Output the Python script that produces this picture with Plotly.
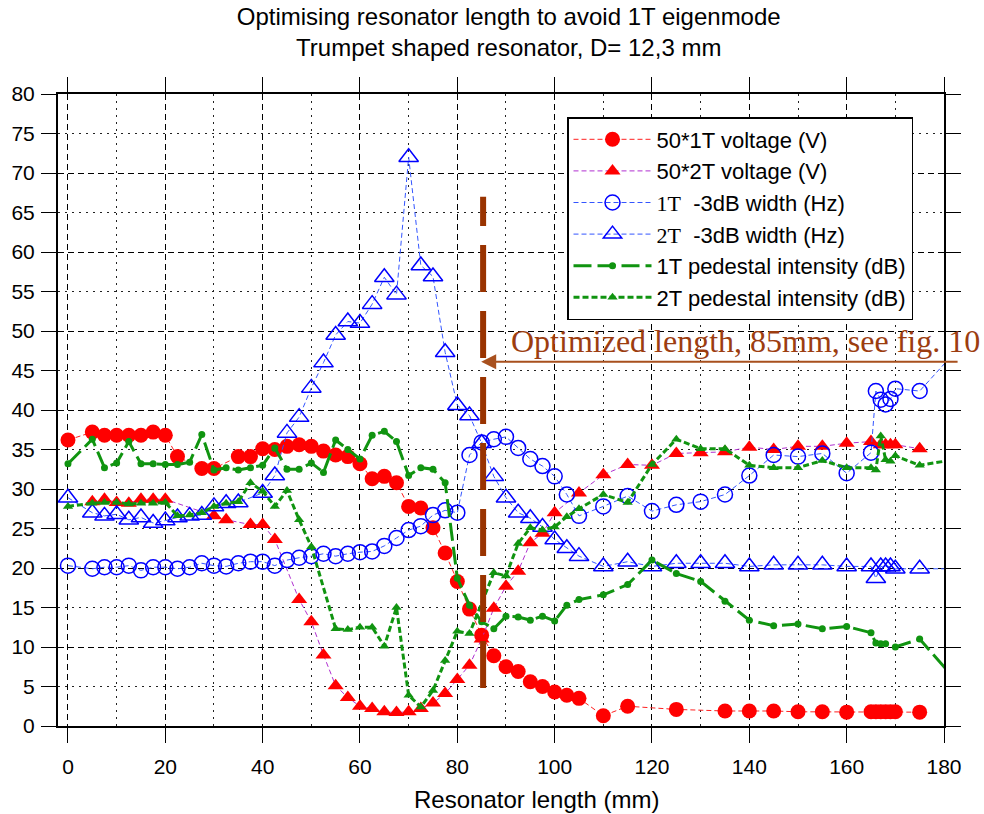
import plotly.graph_objects as go

# ---------------- data ----------------
x_v1 = [0, 5, 7.5, 10, 12.5, 15, 17.5, 20, 22.5, 27.5, 30, 35, 37.5, 40, 42.5, 45, 47.5, 50, 52.5, 55,
        57.5, 60, 62.5, 65, 67.5, 70, 72.5, 75, 77.5, 80, 82.5, 85, 87.5, 90, 92.5, 95, 97.5, 100, 102.5,
        105, 110, 115, 125, 135, 140, 145, 150, 155, 160, 165, 166, 167, 168, 169, 170, 175]
y_v1 = [36.2, 37.2, 36.8, 36.8, 36.8, 36.8, 37.2, 36.8, 34.1, 32.6, 32.6, 34.1, 34.1, 35.1, 35.0, 35.4,
        35.6, 35.4, 34.8, 34.3, 34.1, 33.2, 31.3, 31.6, 30.8, 27.8, 27.6, 25.1, 21.9, 18.3, 14.8, 11.5,
        8.9, 7.5, 6.9, 5.6, 5.0, 4.3, 3.9, 3.5, 1.3, 2.5, 2.1, 1.9, 1.9, 1.9, 1.8, 1.8, 1.75, 1.8, 1.8,
        1.8, 1.8, 1.8, 1.8, 1.75]

x_v2 = [5, 7.5, 10, 12.5, 15, 17.5, 20, 30, 32.5, 37.5, 40, 42.5, 47.5, 50, 52.5, 55, 57.5, 60, 62.5,
        65, 67.5, 70, 72.5, 75, 77.5, 80, 82.5, 85, 87.5, 90, 92.5, 95, 97.5, 100, 105, 110, 115, 120,
        125, 130, 135, 140, 145, 150, 155, 160, 165, 167, 168, 169, 170, 175]
y_v2 = [28.4, 28.7, 28.3, 28.2, 28.7, 28.7, 28.7, 26.6, 26.1, 25.5, 25.5, 23.6, 16.0, 13.2, 9.0, 5.1,
        3.6, 2.5, 2.2, 1.8, 1.7, 1.8, 2.2, 2.9, 4.1, 5.9, 7.7, 11.0, 14.9, 17.7, 19.6, 23.2, 24.4, 27.0,
        29.5, 31.8, 33.1, 33.0, 34.5, 34.6, 34.7, 35.3, 35.0, 35.4, 35.4, 35.8, 36.0, 35.6, 35.6, 35.6,
        35.6, 35.1]

x_w1 = [0, 5, 7.5, 10, 12.5, 15, 17.5, 20, 22.5, 25, 27.5, 30, 32.5, 35, 37.5, 40, 42.5, 45, 47.5, 50,
        52.5, 55, 57.5, 60, 62.5, 65, 67.5, 70, 72.5, 75, 77.5, 80, 82.5, 85, 87.5, 90, 92.5, 95, 97.5,
        100, 102.5, 105, 110, 115, 120, 125, 130, 135, 140, 145, 150, 155, 160, 165, 166, 167, 168, 169,
        170, 175, 185]
y_w1 = [20.3, 19.9, 20.1, 20.1, 20.3, 19.7, 20.1, 20.1, 19.9, 20.1, 20.6, 20.3, 20.2, 20.6, 20.8, 20.8,
        20.3, 21.0, 21.3, 21.5, 21.8, 21.5, 21.8, 22.0, 22.1, 22.8, 23.8, 24.8, 25.3, 26.7, 27.3, 27.0,
        34.3, 35.9, 36.3, 36.6, 35.2, 33.8, 32.9, 31.6, 29.3, 26.6, 27.8, 29.1, 27.2, 28.0, 28.4, 29.3,
        31.7, 34.3, 34.1, 34.5, 32.0, 34.6, 42.4, 41.3, 40.7, 41.4, 42.7, 42.4, 49.2]

x_w2 = [0, 5, 7.5, 10, 12.5, 15, 17.5, 20, 22.5, 25, 27.5, 30, 32.5, 35, 40, 42.5, 45, 47.5, 50, 52.5,
        55, 57.5, 60, 62.5, 65, 67.5, 70, 72.5, 75, 77.5, 80, 82.5, 85, 87.5, 90, 92.5, 95, 97.5, 100,
        102.5, 105, 110, 115, 120, 125, 130, 135, 140, 145, 150, 155, 160, 165, 166, 167, 168, 169, 170,
        175, 185]
y_w2 = [28.9, 27.0, 26.6, 26.8, 26.1, 26.4, 25.7, 26.0, 26.4, 26.6, 26.7, 27.8, 28.2, 28.3, 29.5, 31.7,
        37.1, 39.1, 42.8, 46.0, 49.5, 51.2, 51.0, 53.4, 56.8, 54.6, 72.0, 58.3, 56.9, 47.3, 40.6, 39.3,
        35.8, 31.6, 28.9, 27.0, 26.3, 25.2, 23.6, 22.5, 21.5, 20.2, 20.8, 20.2, 20.6, 20.6, 20.6, 20.2,
        20.4, 20.4, 20.4, 20.2, 20.2, 18.7, 20.2, 20.2, 20.2, 19.9, 19.9, 19.9]

x_p1 = [0, 5, 7.5, 10, 12.5, 15, 17.5, 20, 22.5, 25, 27.5, 30, 32.5, 35, 37.5, 40, 42.5, 45, 47.5, 50,
        52.5, 55, 57.5, 60, 62.5, 65, 67.5, 70, 72.5, 75, 77.5, 80, 82.5, 85, 87.5, 90, 92.5, 95, 97.5,
        100, 102.5, 105, 110, 115, 120, 125, 130, 135, 140, 145, 150, 155, 160, 165, 166, 167, 168, 170,
        175, 185]
y_p1 = [33.2, 36.3, 32.7, 33.3, 36.0, 33.2, 33.2, 33.1, 33.1, 33.4, 36.9, 32.4, 32.7, 32.4, 32.7, 33.0,
        35.2, 32.5, 32.5, 33.3, 32.1, 36.2, 35.0, 33.8, 36.8, 37.3, 36.0, 31.7, 32.7, 32.5, 30.8, 18.7,
        15.3, 13.2, 12.3, 13.9, 13.8, 13.4, 13.9, 13.3, 15.3, 16.0, 16.6, 17.9, 21.0, 19.3, 18.3, 15.8,
        13.4, 12.7, 12.9, 12.3, 12.6, 11.8, 10.5, 10.4, 10.4, 10.0, 11.0, 4.0]

x_p2 = [0, 5, 7.5, 10, 12.5, 15, 17.5, 20, 22.5, 25, 27.5, 30, 32.5, 35, 37.5, 40, 42.5, 45, 47.5, 50,
        55, 57.5, 60, 62.5, 65, 67.5, 70, 72.5, 75, 77.5, 80, 82.5, 87.5, 90, 92.5, 95, 97.5, 100, 102.5,
        105, 110, 115, 120, 125, 130, 135, 140, 145, 150, 155, 160, 165, 166, 167, 168, 169, 170, 175, 185]
y_p2 = [27.8, 28.2, 28.3, 28.3, 28.1, 28.2, 28.2, 28.3, 26.6, 26.7, 27.0, 27.8, 28.2, 28.4, 30.8, 29.7,
        27.8, 29.8, 26.1, 22.7, 12.3, 12.2, 12.5, 12.5, 10.1, 15.0, 3.9, 2.4, 4.5, 8.3, 12.0, 11.7, 19.4,
        19.0, 23.1, 25.1, 24.8, 25.2, 26.5, 27.5, 29.3, 28.3, 33.1, 36.3, 35.1, 35.1, 33.0, 32.7, 32.7,
        33.6, 32.7, 32.7, 32.4, 36.7, 33.7, 33.5, 34.2, 33.0, 34.0]

names = ["50*1T voltage (V)",
         "50*2T voltage (V)",
         '<span style="font-family:Liberation Serif">1T</span>  -3dB width (Hz)',
         '<span style="font-family:Liberation Serif">2T</span>  -3dB width (Hz)',
         "1T pedestal intensity (dB)",
         "2T pedestal intensity (dB)"]

TITLE = "Optimising resonator length to avoid 1T eigenmode<br>Trumpet shaped resonator, D= 12,3 mm"
XTITLE = "Resonator length (mm)"
NOTE = "Optimized length, 85mm, see fig. 10"
OPT_X = 85.3          # optimized length marker line
OPT_Y = [4.8, 67.0]
ARROW_Y = 46.1
ARROW_TAIL_X = 183.1
X_RANGE = [-2.05, 180]
Y_RANGE = [0, 80]

GREEN = "#109410"
BROWN = "#993300"

fig = go.Figure()
fig.add_trace(go.Scatter(x=x_v1, y=y_v1, name=names[0], mode="lines+markers",
                         line=dict(color="#FF2020", width=1, dash="5px,3px"),
                         marker=dict(symbol="circle", size=15, color="#FF0000")))
fig.add_trace(go.Scatter(x=x_v2, y=y_v2, name=names[1], mode="lines+markers",
                         line=dict(color="#B030D0", width=1, dash="5px,3px"),
                         marker=dict(symbol="triangle-up", size=14, color="#FF0000")))
fig.add_trace(go.Scatter(x=x_w1, y=y_w1, name=names[2], mode="lines+markers",
                         line=dict(color="#3355FF", width=1, dash="5px,3px"),
                         marker=dict(symbol="circle-open", size=15, color="#0000FF",
                                     line=dict(width=1.5))))
fig.add_trace(go.Scatter(x=x_w2, y=y_w2, name=names[3], mode="lines+markers",
                         line=dict(color="#3355FF", width=1, dash="5px,3px"),
                         marker=dict(symbol="triangle-up-open", size=17, color="#0000FF",
                                     line=dict(width=1.5))))
fig.add_trace(go.Scatter(x=x_p1, y=y_p1, name=names[4], mode="lines+markers",
                         line=dict(color=GREEN, width=3, dash="18px,6px"),
                         marker=dict(symbol="circle", size=7, color=GREEN)))
fig.add_trace(go.Scatter(x=x_p2, y=y_p2, name=names[5], mode="lines+markers",
                         line=dict(color=GREEN, width=3, dash="6px,3px"),
                         marker=dict(symbol="triangle-up", size=9, color=GREEN)))
# helper trace for the labelled overlay axis
fig.add_trace(go.Scatter(x=[None], y=[None], yaxis="y2", showlegend=False, hoverinfo="skip"))

fig.add_shape(type="line", xref="x", yref="y", x0=OPT_X, x1=OPT_X, y0=OPT_Y[0], y1=OPT_Y[1],
              line=dict(color=BROWN, width=6, dash="47px,19px"))

fig.add_annotation(x=OPT_X - 0.4, y=ARROW_Y, ax=ARROW_TAIL_X, ay=ARROW_Y, axref="x", ayref="y",
                   xref="x", yref="y", text="", showarrow=True, arrowhead=2, arrowsize=1.5,
                   arrowwidth=2, arrowcolor="#A8501E")
fig.add_annotation(x=90.6, y=48.7, xref="x", yref="y", text=NOTE, showarrow=False,
                   xanchor="left", yanchor="middle",
                   font=dict(family="Liberation Serif", size=32, color="#9C3D10"))
# x-axis title (offset to the right like the reference); paper coords of the plot area
fig.add_annotation(x=(536 - 58) / 886, y=(726 - 799) / 632, xref="paper", yref="paper",
                   text=XTITLE, showarrow=False, xanchor="center", yanchor="middle",
                   font=dict(family="Liberation Sans, Arial", size=24, color="black"))

fig.update_layout(
    width=984, height=814,
    margin=dict(l=58, r=40, t=94, b=88, autoexpand=False),
    paper_bgcolor="white", plot_bgcolor="white",
    font=dict(family="Liberation Sans, Arial", color="black"),
    title=dict(text=TITLE, x=0.517, xref="container", xanchor="center",
               y=0.969, yref="container", yanchor="top", automargin=False,
               font=dict(size=24, family="Liberation Sans, Arial", color="black")),
    showlegend=True,
    legend=dict(x=0.5745, y=0.9636, xanchor="left", yanchor="top",
                bgcolor="white", bordercolor="black", borderwidth=1.5,
                font=dict(size=22, family="Liberation Sans, Arial", color="black"),
                itemwidth=78),
    xaxis=dict(range=X_RANGE, dtick=20, tick0=0, ticks="outside", ticklen=15, tickwidth=1,
               tickcolor="black", showline=True, linewidth=2, linecolor="black", mirror="ticks",
               showgrid=True, gridcolor="black", gridwidth=1, griddash="6px,4px", zeroline=False,
               minor=dict(dtick=10, showgrid=True, gridcolor="#222", gridwidth=1, griddash="2px,5px"),
               tickfont=dict(size=21), ticklabelstandoff=6, automargin=False),
    yaxis=dict(range=Y_RANGE, dtick=10, tick0=0, ticks="", showticklabels=False, showline=False,
               showgrid=True, gridcolor="black", gridwidth=1, griddash="6px,4px", zeroline=False,
               automargin=False,
               minor=dict(dtick=5, showgrid=True, gridcolor="#222", gridwidth=1, griddash="2px,5px")),
    yaxis2=dict(range=Y_RANGE, dtick=5, tick0=0, overlaying="y", side="left", ticks="outside",
                ticklen=15, tickwidth=1, tickcolor="black", showline=True, linewidth=2,
                linecolor="black", mirror="ticks", showgrid=False, zeroline=False,
                tickfont=dict(size=21), ticklabelstandoff=2, automargin=False),
)

fig.write_html("out.html")
